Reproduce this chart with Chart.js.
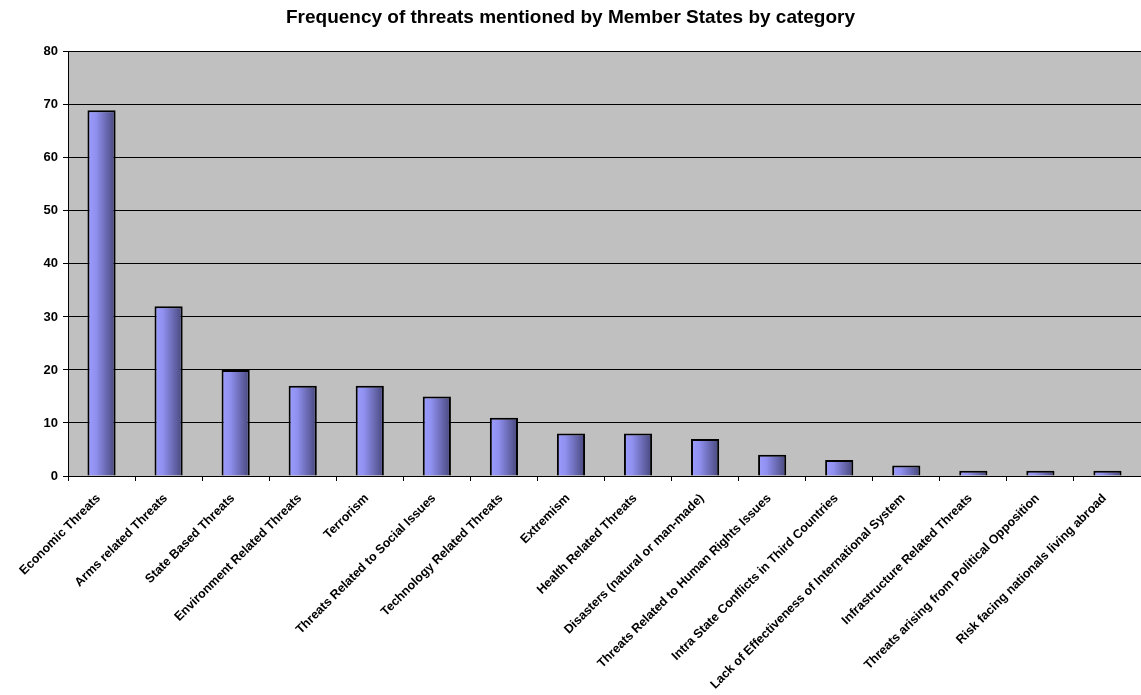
<!DOCTYPE html>
<html>
<head>
<meta charset="utf-8">
<script src="https://cdn.jsdelivr.net/npm/chart.js@4.4.0/dist/chart.umd.min.js"></script>
<style>
  html, body { margin: 0; padding: 0; background: #fff; }
  #wrap { width: 1141px; height: 695px; }
</style>
</head>
<body>
<div id="wrap"><canvas id="myChart"></canvas></div>
<script>
var categories = [
	'Economic Threats',
	'Arms related Threats',
	'State Based Threats',
	'Environment Related Threats',
	'Terrorism',
	'Threats Related to Social Issues',
	'Technology Related Threats',
	'Extremism',
	'Health Related Threats',
	'Disasters (natural or man-made)',
	'Threats Related to Human Rights Issues',
	'Intra State Conflicts in Third Countries',
	'Lack of Effectiveness of International System',
	'Infrastructure Related Threats',
	'Threats arising from Political Opposition',
	'Risk facing nationals living abroad'
];
var frequency = [69, 32, 20, 17, 17, 15, 11, 8, 8, 7, 4, 3, 2, 1, 1, 1];
var yTicks = [0, 10, 20, 30, 40, 50, 60, 70, 80];

var barPct = 0.42;

// grey plot background behind the bars
var plotBg = {
	id: 'plotBg',
	beforeDraw: function(chart) {
		var a = chart.chartArea, c = chart.ctx;
		c.save();
		c.fillStyle = '#c0c0c0';
		c.fillRect(a.left, a.top, a.right - a.left, a.bottom - a.top);
		c.restore();
	}
};

// shaded bar fill, light on the left and dark on the right
function barFill(context) {
	var chart = context.chart;
	var xs = chart.scales.x;
	if (!xs || !chart.chartArea) return '#9999ff';
	var cx = xs.getPixelForValue(context.dataIndex);
	var w = (xs.width / categories.length) * barPct;
	var g = chart.ctx.createLinearGradient(cx - w / 2, 0, cx + w / 2, 0);
	g.addColorStop(0, '#9c9cff');
	g.addColorStop(0.3, '#9090f0');
	g.addColorStop(1, '#46467a');
	return g;
}

var fam = 'Liberation Sans, Arial, sans-serif';

var myChart = new Chart(document.getElementById('myChart').getContext('2d'), {
	type: 'bar',
	data: {
		labels: categories,
		datasets: [{
			data: frequency,
			backgroundColor: barFill,
			borderColor: '#000',
			borderWidth: 2,
			categoryPercentage: 1,
			barPercentage: barPct
		}]
	},
	options: {
		responsive: true,
		maintainAspectRatio: false,
		animation: false,
		layout: { padding: 0 },
		plugins: {
			legend: { display: false },
			tooltip: { enabled: false },
			title: {
				display: true,
				text: 'Frequency of threats mentioned by Member States by category',
				color: '#000',
				font: { family: fam, weight: 'bold', size: 19 },
				padding: { top: 6, bottom: 23 }
			}
		},
		scales: {
			x: {
				offset: true,
				grid: { display: true, drawOnChartArea: false, color: '#000', tickLength: 5 },
				border: { color: '#000', width: 1 },
				ticks: {
					color: '#000',
					autoSkip: false,
					maxRotation: 45,
					minRotation: 45,
					padding: 10,
					labelOffset: -3,
					font: { family: fam, weight: 'bold', size: 12.5 }
				},
				afterFit: function(scale) { scale.height = 219; }
			},
			y: {
				min: 0,
				max: 80,
				afterBuildTicks: function(scale) {
					scale.ticks = yTicks.map(function(v) { return { value: v }; });
				},
				grid: { color: '#000', lineWidth: 1, tickLength: 5 },
				border: { color: '#000', width: 1 },
				ticks: {
					color: '#000',
					padding: 5,
					font: { family: fam, weight: 'bold', size: 13 }
				},
				afterFit: function(scale) { scale.width = 68; }
			}
		}
	},
	plugins: [plotBg]
});
</script>
</body>
</html>
